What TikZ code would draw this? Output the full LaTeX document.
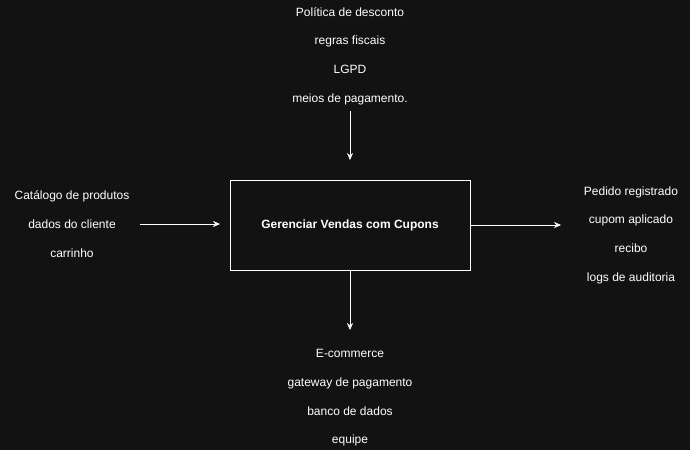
\documentclass[tikz,border=0pt]{standalone}
\usepackage{fontspec}
\setmainfont{Liberation Sans}
\usetikzlibrary{arrows.meta}
\definecolor{bgdark}{HTML}{121212}

\begin{document}
\begin{tikzpicture}[x=1pt, y=-1pt]
\tikzset{proc/.style = {draw=white, fill=bgdark, minimum width=240pt, minimum height=90pt, font=\bfseries\fontsize{12pt}{14pt}\selectfont, text=white}}
\tikzset{lbl/.style = {text=white, align=center, font=\fontsize{12pt}{28.7pt}\selectfont}}
\tikzset{flow/.style = {draw=white, -{Stealth[length=7pt, width=6pt]}}}
% background and bounds
\fill[bgdark] (0,0) rectangle (690,450);
\useasboundingbox (0,0) rectangle (690,450);

% the activity box
\node[proc] (P) at (350,225) {Gerenciar Vendas com Cupons};

% controls, inputs, outputs, mechanisms
\node[lbl] (ctrl) at (350,56) {Política de desconto\\regras fiscais\\LGPD\\meios de pagamento.};
\node[lbl] (inp) at (72,224) {Catálogo de produtos\\dados do cliente\\carrinho};
\node[lbl] (outp) at (631,235) {Pedido registrado\\cupom aplicado\\recibo\\logs de auditoria};
\node[lbl] (mech) at (350,398) {E-commerce\\gateway de pagamento\\banco de dados\\equipe};

\coordinate (ctrlA) at (350,111);
\coordinate (ctrlB) at (350,160);
\coordinate (inpA) at (140,224);
\coordinate (inpB) at (220,224);
\coordinate (outB) at (561,225);
\coordinate (mechB) at (350,330);

% arrows
\draw[flow] (ctrlA) to (ctrlB);
\draw[flow] (inpA) to (inpB);
\draw[flow] (P.east) to (outB);
\draw[flow] (P.south) to (mechB);
\end{tikzpicture}
\end{document}
